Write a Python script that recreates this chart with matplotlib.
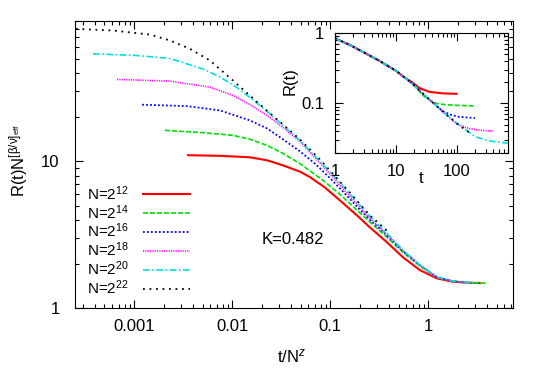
import matplotlib
matplotlib.use('Agg')
import matplotlib.pyplot as plt
from matplotlib.ticker import LogLocator, NullFormatter, FixedLocator, FixedFormatter

# main panel: t/N^z vs R(t) N^[beta/nu]_eff, one curve per system size
labels = [r'N=2$^{12}$', r'N=2$^{14}$', r'N=2$^{16}$', r'N=2$^{18}$', r'N=2$^{20}$', r'N=2$^{22}$']

x_n12 = [0.00355, 0.00753, 0.0152, 0.0227, 0.0330, 0.0492, 0.0622, 0.0885, 0.126, 0.188, 0.254, 0.379, 0.552, 0.823, 1.227, 1.786, 2.661, 3.365]
y_n12 = [11.0, 10.9, 10.65, 10.16, 9.39, 8.51, 7.82, 6.64, 5.42, 4.29, 3.56, 2.82, 2.23, 1.82, 1.60, 1.516, 1.492, 1.485]

x_n14 = [0.00207, 0.00505, 0.0102, 0.0152, 0.0227, 0.0330, 0.0492, 0.0845, 0.126, 0.179, 0.237, 0.379, 0.552, 0.823, 1.227, 1.786, 2.661, 4.06]
y_n14 = [16.24, 15.66, 15.02, 14.13, 12.84, 11.33, 9.65, 7.43, 5.97, 4.80, 4.04, 3.05, 2.41, 1.94, 1.63, 1.53, 1.497, 1.478]

x_n16 = [0.00121, 0.00347, 0.00753, 0.0152, 0.0227, 0.0330, 0.0492, 0.0700, 0.0972, 0.1416, 0.201, 0.254, 0.379, 0.552, 0.823, 1.227, 1.786, 2.366]
y_n16 = [24.26, 23.74, 22.19, 18.98, 16.75, 14.13, 11.70, 9.66, 7.82, 6.03, 4.70, 4.01, 3.15, 2.45, 1.97, 1.63, 1.53, 1.497]

x_n18 = [0.000671, 0.00233, 0.00595, 0.0102, 0.0152, 0.0227, 0.0330, 0.0492, 0.0717, 0.1043, 0.1416, 0.201, 0.254, 0.379, 0.552, 0.823, 1.227, 1.786, 2.725]
y_n18 = [36.05, 35.1, 31.95, 28.06, 24.38, 20.53, 17.02, 13.65, 10.42, 7.94, 6.30, 4.88, 4.10, 3.16, 2.48, 1.97, 1.63, 1.53, 1.492]

x_n20 = [0.000382, 0.00107, 0.00233, 0.00505, 0.00753, 0.0112, 0.0152, 0.0227, 0.0330, 0.0492, 0.0751, 0.1146, 0.1708, 0.254, 0.379, 0.552, 0.823, 1.227, 1.786, 3.136]
y_n20 = [53.85, 52.45, 50.04, 42.46, 37.48, 31.8, 27.2, 21.85, 17.55, 13.89, 10.31, 7.66, 5.70, 4.23, 3.24, 2.49, 1.97, 1.63, 1.53, 1.485]

x_n22 = [0.000256, 0.000611, 0.00146, 0.00233, 0.00372, 0.00595, 0.0102, 0.0152, 0.0227, 0.0330, 0.0492, 0.0787, 0.120, 0.179, 0.254, 0.407]
y_n22 = [79.6, 77.5, 72.8, 66.3, 58.2, 48.5, 35.5, 28.0, 22.1, 17.83, 14.11, 10.31, 7.55, 5.61, 4.30, 3.24]

# inset: raw R(t); all sizes share the early-time part
t_early = [1.0, 1.76, 2.9, 5.44, 10.2, 13.9]
r_early = [0.841, 0.675, 0.537, 0.400, 0.288, 0.234]

t_n12 = [18.8, 24.5, 35.7, 58.8, 100]
r_n12 = [0.198, 0.165, 0.146, 0.139, 0.137]
t_n14 = [18.8, 28, 38, 46, 60, 86, 200]
r_n14 = [0.190, 0.130, 0.108, 0.100, 0.097, 0.0946, 0.092]
t_n16 = [18.8, 31.5, 58.8, 80, 110, 200]
r_n16 = [0.190, 0.125, 0.078, 0.069, 0.0645, 0.062]
t_n18 = [18.8, 31.5, 58.8, 100, 161, 234, 400]
r_n18 = [0.190, 0.125, 0.077, 0.051, 0.0441, 0.0417, 0.0405]
t_n20 = [18.8, 31.5, 58.8, 110, 171, 207, 341, 639, 770]
r_n20 = [0.190, 0.125, 0.077, 0.0491, 0.0374, 0.0335, 0.0294, 0.0275, 0.0272]
t_n22 = [18.8, 31.5, 58.8, 110, 171]
r_n22 = [0.190, 0.125, 0.077, 0.0491, 0.0374]

K_value = '0.482'

plt.rcParams['font.family'] = ['Liberation Sans', 'DejaVu Sans']
plt.rcParams['font.size'] = 12
plt.rcParams['mathtext.fontset'] = 'custom'
plt.rcParams['mathtext.rm'] = 'Liberation Sans'
plt.rcParams['mathtext.it'] = 'Liberation Sans:italic'

# gnuplot-like line types
styles = [
    dict(color='#ff0000', lw=1.5, ls='-'),
    dict(color='#00e000', lw=1.2, dashes=(3, 1.2)),
    dict(color='#0000ff', lw=1.3, dashes=(1, 1.2)),
    dict(color='#ff00ff', lw=1.2, dashes=(0.7, 0.7)),
    dict(color='#00e0e0', lw=1.2, dashes=(4, 1.5, 1, 1.5)),
    dict(color='#000000', lw=1.3, dashes=(1, 2.6)),
]

main_x = [x_n12, x_n14, x_n16, x_n18, x_n20, x_n22]
main_y = [y_n12, y_n14, y_n16, y_n18, y_n20, y_n22]
tails_t = [t_n12, t_n14, t_n16, t_n18, t_n20, t_n22]
tails_r = [r_n12, r_n14, r_n16, r_n18, r_n20, r_n22]

fig = plt.figure(figsize=(5.45, 3.82), dpi=100)
ax = fig.add_axes([0.1376, 0.1929, 0.8042, 0.7521])

for xs, ys, lab, st in zip(main_x, main_y, labels, styles):
    ax.plot(xs, ys, label=lab, **st)

ax.set_xscale('log')
ax.set_yscale('log')
ax.set_xlim(0.00025, 7.4)
ax.set_ylim(1, 90)
ax.xaxis.set_major_locator(FixedLocator([0.001, 0.01, 0.1, 1]))
ax.xaxis.set_major_formatter(FixedFormatter(['0.001', '0.01', '0.1', '1']))
ax.yaxis.set_major_locator(FixedLocator([1, 10]))
ax.yaxis.set_major_formatter(FixedFormatter(['1', '10']))
for axis in (ax.xaxis, ax.yaxis):
    axis.set_minor_locator(LogLocator(base=10, subs=range(2, 10), numticks=20))
    axis.set_minor_formatter(NullFormatter())
ax.tick_params(which='both', direction='in', top=True, right=True, width=0.8)
ax.tick_params(which='major', length=6)
ax.tick_params(which='minor', length=3)
ax.tick_params(axis='x', which='major', pad=8)
ax.tick_params(axis='y', which='major', pad=11)
ax.set_xlabel(r't/N$^{z}$')
ax.xaxis.set_label_coords(0.494, -0.135)
ax.set_ylabel(r'R(t)N$^{[\mathrm{β/ν}]_{\mathrm{eff}}}$')
ax.yaxis.set_label_coords(-0.103, 0.516)
ax.text(0.4266, 0.241, 'K=' + K_value, transform=ax.transAxes, ha='left', va='center')

ax.legend(loc='upper left', bbox_to_anchor=(87 / 545, 1 - 184 / 382), bbox_transform=fig.transFigure,
          frameon=False, markerfirst=False, handlelength=3.1, handletextpad=0.9,
          labelspacing=0.02, borderpad=0, borderaxespad=0, fontsize=11)

# inset
axi = fig.add_axes([0.6147, 0.6003, 0.3174, 0.3134])
for tt, rr, st in zip(tails_t, tails_r, styles):
    axi.plot(t_early + tt, r_early + rr, **st)
axi.set_xscale('log')
axi.set_yscale('log')
axi.set_xlim(1, 700)
axi.set_ylim(0.02, 1)
axi.xaxis.set_major_locator(FixedLocator([1, 10, 100]))
axi.xaxis.set_major_formatter(FixedFormatter(['1', '10', '100']))
axi.yaxis.set_major_locator(FixedLocator([0.1, 1]))
axi.yaxis.set_major_formatter(FixedFormatter(['0.1', '1']))
for axis in (axi.xaxis, axi.yaxis):
    axis.set_minor_locator(LogLocator(base=10, subs=range(2, 10), numticks=20))
    axis.set_minor_formatter(NullFormatter())
axi.tick_params(which='both', direction='in', top=True, right=True, width=0.8)
axi.tick_params(which='major', length=6)
axi.tick_params(which='minor', length=3)
axi.tick_params(axis='x', which='major', pad=8)
axi.tick_params(axis='y', which='major', pad=8)
axi.set_xlabel('t')
axi.xaxis.set_label_coords(0.5, -0.155)
axi.set_ylabel('R(t)')
axi.yaxis.set_label_coords(-0.215, 0.6)

fig.savefig('out.png', dpi=100)
